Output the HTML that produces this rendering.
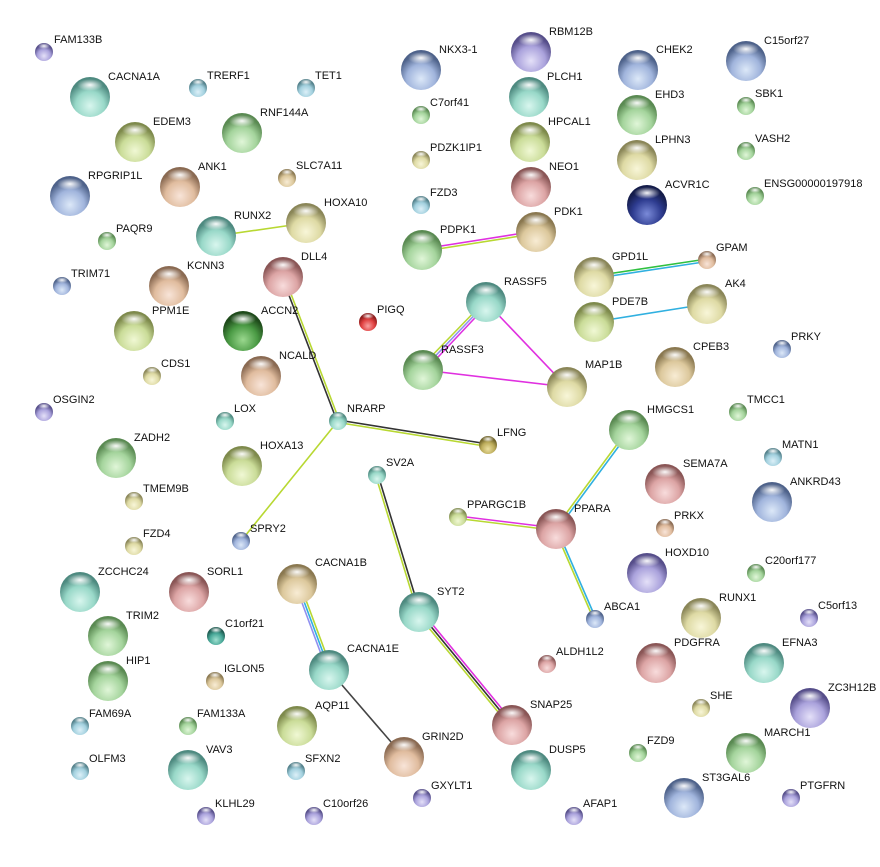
<!DOCTYPE html>
<html><head><meta charset="utf-8"><style>
body{margin:0;background:#fff}
svg text{font-family:"Liberation Sans",sans-serif;font-size:11px;fill:#111}
</style></head><body>
<svg width="880" height="862" viewBox="0 0 880 862" xmlns="http://www.w3.org/2000/svg">
<defs>
<radialGradient id="hl" cx="0.5" cy="0.5" r="0.5"><stop offset="0" stop-color="#fff" stop-opacity="0.95"/><stop offset="1" stop-color="#fff" stop-opacity="0"/></radialGradient>
<radialGradient id="t" cx="0.5" cy="0.72" r="0.6"><stop offset="0" stop-color="#d8f6ee"/><stop offset="0.6" stop-color="#98d8c8"/><stop offset="1" stop-color="#4e8a80"/></radialGradient>
<radialGradient id="g" cx="0.5" cy="0.72" r="0.6"><stop offset="0" stop-color="#e0f6d8"/><stop offset="0.6" stop-color="#a4d49c"/><stop offset="1" stop-color="#5a8a52"/></radialGradient>
<radialGradient id="yg" cx="0.5" cy="0.72" r="0.6"><stop offset="0" stop-color="#f0f8d4"/><stop offset="0.6" stop-color="#cadc98"/><stop offset="1" stop-color="#7e8a4c"/></radialGradient>
<radialGradient id="y" cx="0.5" cy="0.72" r="0.6"><stop offset="0" stop-color="#f8f6d8"/><stop offset="0.6" stop-color="#dedaa4"/><stop offset="1" stop-color="#8a8658"/></radialGradient>
<radialGradient id="tn" cx="0.5" cy="0.72" r="0.6"><stop offset="0" stop-color="#f8ecd4"/><stop offset="0.6" stop-color="#dcc89c"/><stop offset="1" stop-color="#8a7850"/></radialGradient>
<radialGradient id="p" cx="0.5" cy="0.72" r="0.6"><stop offset="0" stop-color="#f8e4d8"/><stop offset="0.6" stop-color="#e0bc9e"/><stop offset="1" stop-color="#8a6a52"/></radialGradient>
<radialGradient id="pk" cx="0.5" cy="0.72" r="0.6"><stop offset="0" stop-color="#f8dcdc"/><stop offset="0.6" stop-color="#dca4a4"/><stop offset="1" stop-color="#8a5656"/></radialGradient>
<radialGradient id="b" cx="0.5" cy="0.72" r="0.6"><stop offset="0" stop-color="#dce8f8"/><stop offset="0.6" stop-color="#a0b4dc"/><stop offset="1" stop-color="#4e628a"/></radialGradient>
<radialGradient id="pu" cx="0.5" cy="0.72" r="0.6"><stop offset="0" stop-color="#e4e0f8"/><stop offset="0.6" stop-color="#aaa2dc"/><stop offset="1" stop-color="#564e8a"/></radialGradient>
<radialGradient id="lb" cx="0.5" cy="0.72" r="0.6"><stop offset="0" stop-color="#dcf0f8"/><stop offset="0.6" stop-color="#a2d0de"/><stop offset="1" stop-color="#52808a"/></radialGradient>
<radialGradient id="dg" cx="0.5" cy="0.72" r="0.6"><stop offset="0" stop-color="#9ad88e"/><stop offset="0.6" stop-color="#4a9a44"/><stop offset="1" stop-color="#1e4a1a"/></radialGradient>
<radialGradient id="db" cx="0.5" cy="0.72" r="0.6"><stop offset="0" stop-color="#7a8ad8"/><stop offset="0.6" stop-color="#2e3c90"/><stop offset="1" stop-color="#141c4a"/></radialGradient>
<radialGradient id="r" cx="0.5" cy="0.72" r="0.6"><stop offset="0" stop-color="#f8a0a0"/><stop offset="0.6" stop-color="#e04040"/><stop offset="1" stop-color="#8a1a1a"/></radialGradient>
<radialGradient id="o" cx="0.5" cy="0.72" r="0.6"><stop offset="0" stop-color="#ece0a0"/><stop offset="0.6" stop-color="#bcac5a"/><stop offset="1" stop-color="#6e6228"/></radialGradient>
<radialGradient id="tq" cx="0.5" cy="0.72" r="0.6"><stop offset="0" stop-color="#a0e0d0"/><stop offset="0.6" stop-color="#48a898"/><stop offset="1" stop-color="#1e5a50"/></radialGradient>
</defs>
<g stroke-width="1.6" fill="none">
<line x1="216" y1="236" x2="306" y2="223" stroke="#b8d832"/>
<line x1="422" y1="249" x2="536" y2="231" stroke="#e030e0"/><line x1="422" y1="251.5" x2="536" y2="233.5" stroke="#b8d832"/>
<line x1="594" y1="276" x2="707" y2="259" stroke="#30c040"/><line x1="594" y1="278.5" x2="707" y2="261.5" stroke="#30b0e0"/>
<line x1="594" y1="322" x2="707" y2="304" stroke="#30b0e0"/>
<line x1="282" y1="277" x2="337" y2="421" stroke="#333"/><line x1="284.5" y1="277" x2="339.5" y2="421" stroke="#b8d832"/>
<line x1="484" y1="302" x2="420" y2="368" stroke="#b8d832"/><line x1="486" y1="303" x2="422" y2="370" stroke="#9090f0"/><line x1="488" y1="304" x2="424" y2="372" stroke="#e030e0"/>
<line x1="486" y1="302" x2="567" y2="387" stroke="#e030e0"/>
<line x1="423" y1="370" x2="567" y2="387" stroke="#e030e0"/>
<line x1="338" y1="420" x2="488" y2="444" stroke="#333"/><line x1="338" y1="422.5" x2="488" y2="446.5" stroke="#b8d832"/>
<line x1="338" y1="421" x2="241" y2="541" stroke="#b8d832"/>
<line x1="378" y1="475" x2="420" y2="612" stroke="#333"/><line x1="375.5" y1="475" x2="417.5" y2="612" stroke="#b8d832"/>
<line x1="630" y1="431" x2="557" y2="530" stroke="#30b0e0"/><line x1="628" y1="429.5" x2="555" y2="528.5" stroke="#b8d832"/>
<line x1="458" y1="516" x2="556" y2="528" stroke="#e030e0"/><line x1="458" y1="518.5" x2="556" y2="530.5" stroke="#b8d832"/>
<line x1="557" y1="529" x2="596" y2="619" stroke="#30b0e0"/><line x1="555" y1="530" x2="594" y2="620" stroke="#b8d832"/>
<line x1="295" y1="584" x2="327" y2="670" stroke="#9090f0"/><line x1="297.5" y1="584" x2="329.5" y2="670" stroke="#30b0e0"/><line x1="300" y1="584" x2="332" y2="670" stroke="#b8d832"/>
<line x1="421" y1="610.5" x2="514" y2="723.5" stroke="#e030e0"/><line x1="419" y1="612" x2="512" y2="725" stroke="#333"/><line x1="417" y1="613.5" x2="510" y2="726.5" stroke="#b8d832"/>
<line x1="329" y1="670" x2="404" y2="757" stroke="#444"/>
</g>
<g id="nodes">
<!-- large r=20, small r=9 -->
<circle cx="44" cy="52" r="9" fill="url(#pu)"/><circle cx="90" cy="97" r="20" fill="url(#t)"/><circle cx="198" cy="88" r="9" fill="url(#lb)"/><circle cx="306" cy="88" r="9" fill="url(#lb)"/>
<circle cx="421" cy="70" r="20" fill="url(#b)"/><circle cx="531" cy="52" r="20" fill="url(#pu)"/><circle cx="638" cy="70" r="20" fill="url(#b)"/><circle cx="746" cy="61" r="20" fill="url(#b)"/>
<circle cx="135" cy="142" r="20" fill="url(#yg)"/><circle cx="242" cy="133" r="20" fill="url(#g)"/><circle cx="421" cy="115" r="9" fill="url(#g)"/><circle cx="529" cy="97" r="20" fill="url(#t)"/>
<circle cx="637" cy="115" r="20" fill="url(#g)"/><circle cx="746" cy="106" r="9" fill="url(#g)"/><circle cx="70" cy="196" r="20" fill="url(#b)"/><circle cx="180" cy="187" r="20" fill="url(#p)"/>
<circle cx="287" cy="178" r="9" fill="url(#tn)"/><circle cx="421" cy="160" r="9" fill="url(#y)"/><circle cx="530" cy="142" r="20" fill="url(#yg)"/><circle cx="637" cy="160" r="20" fill="url(#y)"/>
<circle cx="746" cy="151" r="9" fill="url(#g)"/><circle cx="531" cy="187" r="20" fill="url(#pk)"/><circle cx="647" cy="205" r="20" fill="url(#db)"/><circle cx="755" cy="196" r="9" fill="url(#g)"/>
<circle cx="421" cy="205" r="9" fill="url(#lb)"/><circle cx="306" cy="223" r="20" fill="url(#y)"/><circle cx="216" cy="236" r="20" fill="url(#t)"/><circle cx="107" cy="241" r="9" fill="url(#g)"/>
<circle cx="536" cy="232" r="20" fill="url(#tn)"/><circle cx="422" cy="250" r="20" fill="url(#g)"/><circle cx="594" cy="277" r="20" fill="url(#y)"/><circle cx="707" cy="260" r="9" fill="url(#p)"/>
<circle cx="62" cy="286" r="9" fill="url(#b)"/><circle cx="169" cy="286" r="20" fill="url(#p)"/><circle cx="283" cy="277" r="20" fill="url(#pk)"/><circle cx="486" cy="302" r="20" fill="url(#t)"/>
<circle cx="707" cy="304" r="20" fill="url(#y)"/><circle cx="134" cy="331" r="20" fill="url(#yg)"/><circle cx="243" cy="331" r="20" fill="url(#dg)"/><circle cx="368" cy="322" r="9" fill="url(#r)"/>
<circle cx="594" cy="322" r="20" fill="url(#yg)"/><circle cx="782" cy="349" r="9" fill="url(#b)"/><circle cx="423" cy="370" r="20" fill="url(#g)"/><circle cx="261" cy="376" r="20" fill="url(#p)"/>
<circle cx="152" cy="376" r="9" fill="url(#y)"/><circle cx="567" cy="387" r="20" fill="url(#y)"/><circle cx="675" cy="367" r="20" fill="url(#tn)"/><circle cx="44" cy="412" r="9" fill="url(#pu)"/>
<circle cx="225" cy="421" r="9" fill="url(#t)"/><circle cx="338" cy="421" r="9" fill="url(#t)"/><circle cx="738" cy="412" r="9" fill="url(#g)"/><circle cx="629" cy="430" r="20" fill="url(#g)"/>
<circle cx="488" cy="445" r="9" fill="url(#o)"/><circle cx="116" cy="458" r="20" fill="url(#g)"/><circle cx="242" cy="466" r="20" fill="url(#yg)"/><circle cx="773" cy="457" r="9" fill="url(#lb)"/>
<circle cx="377" cy="475" r="9" fill="url(#t)"/><circle cx="665" cy="484" r="20" fill="url(#pk)"/><circle cx="134" cy="501" r="9" fill="url(#y)"/><circle cx="772" cy="502" r="20" fill="url(#b)"/>
<circle cx="458" cy="517" r="9" fill="url(#yg)"/><circle cx="556" cy="529" r="20" fill="url(#pk)"/><circle cx="665" cy="528" r="9" fill="url(#p)"/><circle cx="241" cy="541" r="9" fill="url(#b)"/>
<circle cx="134" cy="546" r="9" fill="url(#y)"/><circle cx="647" cy="573" r="20" fill="url(#pu)"/><circle cx="756" cy="573" r="9" fill="url(#g)"/><circle cx="297" cy="584" r="20" fill="url(#tn)"/>
<circle cx="80" cy="592" r="20" fill="url(#t)"/><circle cx="189" cy="592" r="20" fill="url(#pk)"/><circle cx="419" cy="612" r="20" fill="url(#t)"/><circle cx="701" cy="618" r="20" fill="url(#y)"/>
<circle cx="809" cy="618" r="9" fill="url(#pu)"/><circle cx="595" cy="619" r="9" fill="url(#b)"/><circle cx="108" cy="636" r="20" fill="url(#g)"/><circle cx="216" cy="636" r="9" fill="url(#tq)"/>
<circle cx="656" cy="663" r="20" fill="url(#pk)"/><circle cx="764" cy="663" r="20" fill="url(#t)"/><circle cx="329" cy="670" r="20" fill="url(#t)"/><circle cx="547" cy="664" r="9" fill="url(#pk)"/>
<circle cx="108" cy="681" r="20" fill="url(#g)"/><circle cx="215" cy="681" r="9" fill="url(#tn)"/><circle cx="810" cy="708" r="20" fill="url(#pu)"/><circle cx="701" cy="708" r="9" fill="url(#y)"/>
<circle cx="80" cy="726" r="9" fill="url(#lb)"/><circle cx="188" cy="726" r="9" fill="url(#g)"/><circle cx="297" cy="726" r="20" fill="url(#yg)"/><circle cx="512" cy="725" r="20" fill="url(#pk)"/>
<circle cx="746" cy="753" r="20" fill="url(#g)"/><circle cx="638" cy="753" r="9" fill="url(#g)"/><circle cx="404" cy="757" r="20" fill="url(#p)"/><circle cx="531" cy="770" r="20" fill="url(#t)"/>
<circle cx="80" cy="771" r="9" fill="url(#lb)"/><circle cx="188" cy="770" r="20" fill="url(#t)"/><circle cx="296" cy="771" r="9" fill="url(#lb)"/><circle cx="422" cy="798" r="9" fill="url(#pu)"/>
<circle cx="684" cy="798" r="20" fill="url(#b)"/><circle cx="791" cy="798" r="9" fill="url(#pu)"/><circle cx="574" cy="816" r="9" fill="url(#pu)"/><circle cx="206" cy="816" r="9" fill="url(#pu)"/><circle cx="314" cy="816" r="9" fill="url(#pu)"/>
</g>
<g fill="url(#hl)">
<ellipse cx="44" cy="46" rx="6" ry="3"/><ellipse cx="198" cy="82" rx="6" ry="3"/><ellipse cx="306" cy="82" rx="6" ry="3"/><ellipse cx="421" cy="109" rx="6" ry="3"/><ellipse cx="746" cy="100" rx="6" ry="3"/><ellipse cx="287" cy="172" rx="6" ry="3"/><ellipse cx="421" cy="154" rx="6" ry="3"/><ellipse cx="746" cy="145" rx="6" ry="3"/><ellipse cx="755" cy="190" rx="6" ry="3"/><ellipse cx="421" cy="199" rx="6" ry="3"/><ellipse cx="107" cy="235" rx="6" ry="3"/><ellipse cx="707" cy="254" rx="6" ry="3"/><ellipse cx="62" cy="280" rx="6" ry="3"/><ellipse cx="368" cy="316" rx="6" ry="3"/><ellipse cx="782" cy="343" rx="6" ry="3"/><ellipse cx="152" cy="370" rx="6" ry="3"/><ellipse cx="44" cy="406" rx="6" ry="3"/><ellipse cx="225" cy="415" rx="6" ry="3"/><ellipse cx="338" cy="415" rx="6" ry="3"/><ellipse cx="738" cy="406" rx="6" ry="3"/><ellipse cx="488" cy="439" rx="6" ry="3"/><ellipse cx="773" cy="451" rx="6" ry="3"/><ellipse cx="377" cy="469" rx="6" ry="3"/><ellipse cx="134" cy="495" rx="6" ry="3"/><ellipse cx="458" cy="511" rx="6" ry="3"/><ellipse cx="665" cy="522" rx="6" ry="3"/><ellipse cx="241" cy="535" rx="6" ry="3"/><ellipse cx="134" cy="540" rx="6" ry="3"/><ellipse cx="756" cy="567" rx="6" ry="3"/><ellipse cx="809" cy="612" rx="6" ry="3"/><ellipse cx="595" cy="613" rx="6" ry="3"/><ellipse cx="216" cy="630" rx="6" ry="3"/><ellipse cx="547" cy="658" rx="6" ry="3"/><ellipse cx="215" cy="675" rx="6" ry="3"/><ellipse cx="701" cy="702" rx="6" ry="3"/><ellipse cx="80" cy="720" rx="6" ry="3"/><ellipse cx="188" cy="720" rx="6" ry="3"/><ellipse cx="638" cy="747" rx="6" ry="3"/><ellipse cx="80" cy="765" rx="6" ry="3"/><ellipse cx="296" cy="765" rx="6" ry="3"/><ellipse cx="422" cy="792" rx="6" ry="3"/><ellipse cx="791" cy="792" rx="6" ry="3"/><ellipse cx="574" cy="810" rx="6" ry="3"/><ellipse cx="206" cy="810" rx="6" ry="3"/><ellipse cx="314" cy="810" rx="6" ry="3"/>
<ellipse cx="90" cy="85" rx="13" ry="6"/><ellipse cx="421" cy="58" rx="13" ry="6"/><ellipse cx="531" cy="40" rx="13" ry="6"/><ellipse cx="638" cy="58" rx="13" ry="6"/><ellipse cx="746" cy="49" rx="13" ry="6"/><ellipse cx="135" cy="130" rx="13" ry="6"/><ellipse cx="242" cy="121" rx="13" ry="6"/><ellipse cx="529" cy="85" rx="13" ry="6"/><ellipse cx="637" cy="103" rx="13" ry="6"/><ellipse cx="70" cy="184" rx="13" ry="6"/><ellipse cx="180" cy="175" rx="13" ry="6"/><ellipse cx="530" cy="130" rx="13" ry="6"/><ellipse cx="637" cy="148" rx="13" ry="6"/><ellipse cx="531" cy="175" rx="13" ry="6"/><ellipse cx="647" cy="193" rx="13" ry="6"/><ellipse cx="306" cy="211" rx="13" ry="6"/><ellipse cx="216" cy="224" rx="13" ry="6"/><ellipse cx="536" cy="220" rx="13" ry="6"/><ellipse cx="422" cy="238" rx="13" ry="6"/><ellipse cx="594" cy="265" rx="13" ry="6"/><ellipse cx="169" cy="274" rx="13" ry="6"/><ellipse cx="283" cy="265" rx="13" ry="6"/><ellipse cx="486" cy="290" rx="13" ry="6"/><ellipse cx="707" cy="292" rx="13" ry="6"/><ellipse cx="134" cy="319" rx="13" ry="6"/><ellipse cx="243" cy="319" rx="13" ry="6"/><ellipse cx="594" cy="310" rx="13" ry="6"/><ellipse cx="423" cy="358" rx="13" ry="6"/><ellipse cx="261" cy="364" rx="13" ry="6"/><ellipse cx="567" cy="375" rx="13" ry="6"/><ellipse cx="675" cy="355" rx="13" ry="6"/><ellipse cx="629" cy="418" rx="13" ry="6"/><ellipse cx="116" cy="446" rx="13" ry="6"/><ellipse cx="242" cy="454" rx="13" ry="6"/><ellipse cx="665" cy="472" rx="13" ry="6"/><ellipse cx="772" cy="490" rx="13" ry="6"/><ellipse cx="556" cy="517" rx="13" ry="6"/><ellipse cx="647" cy="561" rx="13" ry="6"/><ellipse cx="297" cy="572" rx="13" ry="6"/><ellipse cx="80" cy="580" rx="13" ry="6"/><ellipse cx="189" cy="580" rx="13" ry="6"/><ellipse cx="419" cy="600" rx="13" ry="6"/><ellipse cx="701" cy="606" rx="13" ry="6"/><ellipse cx="108" cy="624" rx="13" ry="6"/><ellipse cx="656" cy="651" rx="13" ry="6"/><ellipse cx="764" cy="651" rx="13" ry="6"/><ellipse cx="329" cy="658" rx="13" ry="6"/><ellipse cx="108" cy="669" rx="13" ry="6"/><ellipse cx="810" cy="696" rx="13" ry="6"/><ellipse cx="297" cy="714" rx="13" ry="6"/><ellipse cx="512" cy="713" rx="13" ry="6"/><ellipse cx="746" cy="741" rx="13" ry="6"/><ellipse cx="404" cy="745" rx="13" ry="6"/><ellipse cx="531" cy="758" rx="13" ry="6"/><ellipse cx="188" cy="758" rx="13" ry="6"/><ellipse cx="684" cy="786" rx="13" ry="6"/>
</g>
<g>
<text x="54" y="43">FAM133B</text><text x="108" y="80">CACNA1A</text><text x="207" y="79">TRERF1</text><text x="315" y="79">TET1</text>
<text x="439" y="53">NKX3-1</text><text x="549" y="35">RBM12B</text><text x="656" y="53">CHEK2</text><text x="764" y="44">C15orf27</text>
<text x="153" y="125">EDEM3</text><text x="260" y="116">RNF144A</text><text x="430" y="106">C7orf41</text><text x="547" y="80">PLCH1</text>
<text x="655" y="98">EHD3</text><text x="755" y="97">SBK1</text><text x="88" y="179">RPGRIP1L</text><text x="198" y="170">ANK1</text>
<text x="296" y="169">SLC7A11</text><text x="430" y="151">PDZK1IP1</text><text x="548" y="125">HPCAL1</text><text x="655" y="143">LPHN3</text>
<text x="755" y="142">VASH2</text><text x="549" y="170">NEO1</text><text x="665" y="188">ACVR1C</text><text x="764" y="187">ENSG00000197918</text>
<text x="430" y="196">FZD3</text><text x="324" y="206">HOXA10</text><text x="234" y="219">RUNX2</text><text x="116" y="232">PAQR9</text>
<text x="554" y="215">PDK1</text><text x="440" y="233">PDPK1</text><text x="612" y="260">GPD1L</text><text x="716" y="251">GPAM</text>
<text x="71" y="277">TRIM71</text><text x="187" y="269">KCNN3</text><text x="301" y="260">DLL4</text><text x="504" y="285">RASSF5</text>
<text x="725" y="287">AK4</text><text x="152" y="314">PPM1E</text><text x="261" y="314">ACCN2</text><text x="377" y="313">PIGQ</text>
<text x="612" y="305">PDE7B</text><text x="791" y="340">PRKY</text><text x="441" y="353">RASSF3</text><text x="279" y="359">NCALD</text>
<text x="161" y="367">CDS1</text><text x="585" y="368">MAP1B</text><text x="693" y="350">CPEB3</text><text x="53" y="403">OSGIN2</text>
<text x="234" y="412">LOX</text><text x="347" y="412">NRARP</text><text x="747" y="403">TMCC1</text><text x="647" y="413">HMGCS1</text>
<text x="497" y="436">LFNG</text><text x="134" y="441">ZADH2</text><text x="260" y="449">HOXA13</text><text x="782" y="448">MATN1</text>
<text x="386" y="466">SV2A</text><text x="683" y="467">SEMA7A</text><text x="143" y="492">TMEM9B</text><text x="790" y="485">ANKRD43</text>
<text x="467" y="508">PPARGC1B</text><text x="574" y="512">PPARA</text><text x="674" y="519">PRKX</text><text x="250" y="532">SPRY2</text>
<text x="143" y="537">FZD4</text><text x="665" y="556">HOXD10</text><text x="765" y="564">C20orf177</text><text x="315" y="566">CACNA1B</text>
<text x="98" y="575">ZCCHC24</text><text x="207" y="575">SORL1</text><text x="437" y="595">SYT2</text><text x="719" y="601">RUNX1</text>
<text x="818" y="609">C5orf13</text><text x="604" y="610">ABCA1</text><text x="126" y="619">TRIM2</text><text x="225" y="627">C1orf21</text>
<text x="674" y="646">PDGFRA</text><text x="782" y="646">EFNA3</text><text x="347" y="652">CACNA1E</text><text x="556" y="655">ALDH1L2</text>
<text x="126" y="664">HIP1</text><text x="224" y="672">IGLON5</text><text x="828" y="691">ZC3H12B</text><text x="710" y="699">SHE</text>
<text x="89" y="717">FAM69A</text><text x="197" y="717">FAM133A</text><text x="315" y="709">AQP11</text><text x="530" y="708">SNAP25</text>
<text x="764" y="736">MARCH1</text><text x="647" y="744">FZD9</text><text x="422" y="740">GRIN2D</text><text x="549" y="753">DUSP5</text>
<text x="89" y="762">OLFM3</text><text x="206" y="753">VAV3</text><text x="305" y="762">SFXN2</text><text x="431" y="789">GXYLT1</text>
<text x="702" y="781">ST3GAL6</text><text x="800" y="789">PTGFRN</text><text x="583" y="807">AFAP1</text><text x="215" y="807">KLHL29</text><text x="323" y="807">C10orf26</text>
</g>
</svg>
</body></html>
